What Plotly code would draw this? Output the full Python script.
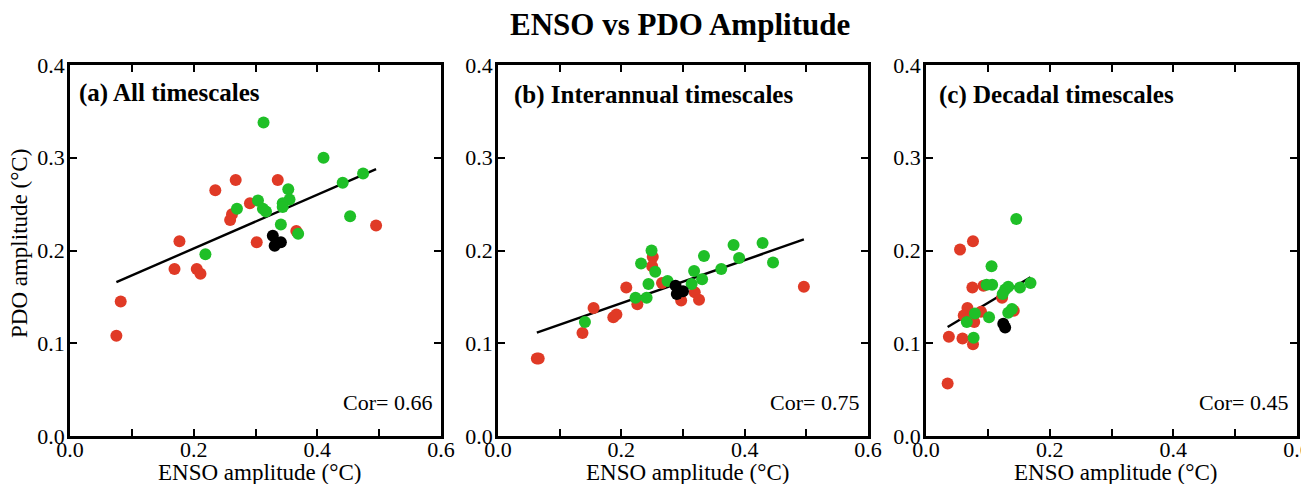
import numpy as np
import plotly.graph_objects as go

# ---------------- data ----------------
# Panel (a) All timescales
a_red_x = [0.075, 0.082, 0.177, 0.169, 0.205, 0.211, 0.235, 0.268, 0.262, 0.259, 0.291, 0.302, 0.336, 0.366, 0.495]
a_red_y = [0.108, 0.145, 0.210, 0.180, 0.180, 0.175, 0.265, 0.276, 0.239, 0.233, 0.251, 0.209, 0.276, 0.221, 0.227]
a_grn_x = [0.313, 0.410, 0.474, 0.441, 0.453, 0.353, 0.355, 0.344, 0.344, 0.304, 0.312, 0.317, 0.270, 0.341, 0.369, 0.219]
a_grn_y = [0.338, 0.300, 0.283, 0.273, 0.237, 0.266, 0.255, 0.251, 0.247, 0.254, 0.245, 0.242, 0.245, 0.228, 0.218, 0.196]
a_blk_x = [0.328, 0.331, 0.341]
a_blk_y = [0.216, 0.205, 0.209]

# Panel (b) Interannual timescales
b_red_x = [0.063, 0.066, 0.137, 0.155, 0.187, 0.192, 0.208, 0.226, 0.251, 0.250, 0.266, 0.297, 0.319, 0.326, 0.496]
b_red_y = [0.0835, 0.0835, 0.111, 0.138, 0.128, 0.131, 0.160, 0.142, 0.193, 0.183, 0.165, 0.146, 0.155, 0.147, 0.161]
b_grn_x = [0.141, 0.223, 0.241, 0.244, 0.232, 0.249, 0.255, 0.275, 0.314, 0.318, 0.331, 0.334, 0.362, 0.382, 0.391, 0.429, 0.446]
b_grn_y = [0.123, 0.149, 0.149, 0.164, 0.186, 0.200, 0.177, 0.167, 0.164, 0.178, 0.169, 0.194, 0.180, 0.206, 0.192, 0.208, 0.187]
b_blk_x = [0.288, 0.290, 0.300]
b_blk_y = [0.162, 0.153, 0.156]

# Panel (c) Decadal timescales
c_red_x = [0.035, 0.037, 0.055, 0.076, 0.059, 0.076, 0.075, 0.093, 0.067, 0.061, 0.071, 0.078, 0.089, 0.123, 0.142]
c_red_y = [0.0565, 0.107, 0.201, 0.210, 0.105, 0.099, 0.160, 0.162, 0.138, 0.130, 0.127, 0.123, 0.134, 0.149, 0.135]
c_grn_x = [0.146, 0.106, 0.107, 0.098, 0.169, 0.152, 0.133, 0.128, 0.124, 0.066, 0.079, 0.102, 0.077, 0.133, 0.139]
c_grn_y = [0.234, 0.183, 0.163, 0.163, 0.165, 0.160, 0.161, 0.158, 0.153, 0.123, 0.132, 0.128, 0.106, 0.133, 0.137]
c_blk_x = [0.125, 0.128]
c_blk_y = [0.121, 0.117]

panel_titles = ["(a) All timescales", "(b) Interannual timescales", "(c) Decadal timescales"]
cor_texts = ["Cor= 0.66", "Cor= 0.75", "Cor= 0.45"]
x_title = "ENSO amplitude (°C)"
y_title = "PDO amplitude (°C)"
main_title = "ENSO vs PDO Amplitude"

x_tickvals = [0.0, 0.1, 0.2, 0.3, 0.4, 0.5, 0.6]
x_ticktext = ["0.0", "", "0.2", "", "0.4", "", "0.6"]
y_tickvals = [0.0, 0.1, 0.2, 0.3, 0.4]
y_ticktext = ["0.0", "0.1", "0.2", "0.3", "0.4"]

# ---------------- figure ----------------
# the page body adds an 8px margin at the top-left
OFF = 8
W, H = 1309 - OFF, 484 - OFF
FONT = "Liberation Serif, Palatino Linotype, Palatino, serif"
RED = "#e03a26"
GREEN = "#1fbf27"


def px(p):
    return (p - OFF) / W


def py(p):
    return (H - (p - OFF)) / H


panels = [
    (a_red_x, a_red_y, a_grn_x, a_grn_y, a_blk_x, a_blk_y),
    (b_red_x, b_red_y, b_grn_x, b_grn_y, b_blk_x, b_blk_y),
    (c_red_x, c_red_y, c_grn_x, c_grn_y, c_blk_x, c_blk_y),
]
xdom_px = [(70, 441), (498, 868), (926, 1297)]
label_dx = [7, 14, 11]
label_y = [93, 95, 95]
ydom = [py(436), py(65)]

fig = go.Figure()
annotations = []
for i, (rx, ry, gx, gy, kx, ky) in enumerate(panels):
    sfx = "" if i == 0 else str(i + 1)
    xa, ya = "x" + sfx, "y" + sfx
    allx = np.array(rx + gx + kx)
    ally = np.array(ry + gy + ky)
    m, b = np.polyfit(allx, ally, 1)
    lx = np.array([allx.min(), allx.max()])
    fig.add_trace(go.Scatter(x=lx, y=m * lx + b, mode="lines",
                             line=dict(color="black", width=2.4),
                             xaxis=xa, yaxis=ya, showlegend=False, hoverinfo="skip"))
    for xs, ys, col in [(rx, ry, RED), (gx, gy, GREEN), (kx, ky, "black")]:
        fig.add_trace(go.Scatter(x=xs, y=ys, mode="markers",
                                 marker=dict(color=col, size=12, line=dict(width=0)),
                                 xaxis=xa, yaxis=ya, showlegend=False))
    x0, x1 = xdom_px[i]
    common = dict(showline=True, linecolor="black", linewidth=2.5, mirror="ticks",
                  ticks="inside", ticklen=7, tickwidth=2, tickcolor="black",
                  showgrid=False, zeroline=False, automargin=False,
                  ticklabeloverflow="allow",
                  tickfont=dict(family=FONT, size=22, color="black"))
    fig.layout["xaxis" + sfx] = dict(
        domain=[px(x0), px(x1)], range=[0, 0.6], anchor=ya,
        tickvals=x_tickvals, ticktext=x_ticktext, ticklabelstandoff=-8, **common)
    fig.layout["yaxis" + sfx] = dict(
        domain=ydom, range=[0, 0.4], anchor=xa,
        tickvals=y_tickvals, ticktext=y_ticktext, ticklabelstandoff=-2, **common)
    annotations.append(dict(text=x_title, xref="paper", yref="paper",
                            x=px((x0 + x1) / 2 + 4), y=py(472), xanchor="center", yanchor="middle",
                            showarrow=False, font=dict(family=FONT, size=23, color="black")))
    annotations.append(dict(text="<b>" + panel_titles[i] + "</b>", xref="paper", yref="paper",
                            x=px(x0 + label_dx[i]), y=py(label_y[i]), xanchor="left", yanchor="middle",
                            showarrow=False, font=dict(family=FONT, size=25, color="black")))
    annotations.append(dict(text=cor_texts[i], xref="paper", yref="paper",
                            x=px(x1 - 7), y=py(402), xanchor="right", yanchor="middle",
                            showarrow=False, font=dict(family=FONT, size=22, color="black")))

annotations.append(dict(text=y_title, xref="paper", yref="paper", textangle=-90,
                        x=px(19), y=py(244), xanchor="center", yanchor="middle",
                        showarrow=False, font=dict(family=FONT, size=23, color="black")))
annotations.append(dict(text="<b>" + main_title + "</b>", xref="paper", yref="paper",
                        x=px(680), y=py(25), xanchor="center", yanchor="middle",
                        showarrow=False, font=dict(family=FONT, size=31, color="black")))

fig.update_layout(width=W, height=H, margin=dict(l=0, r=0, t=0, b=0),
                  paper_bgcolor="white", plot_bgcolor="white",
                  annotations=annotations)

fig.write_html("out.html")
